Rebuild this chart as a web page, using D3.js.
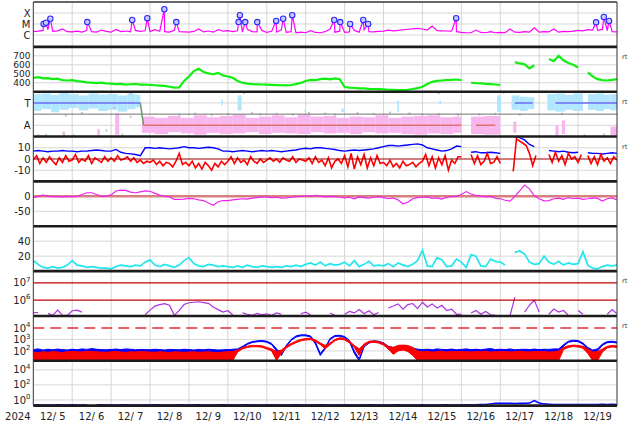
<!DOCTYPE html>
<html><head><meta charset="utf-8">
<script src="https://cdn.jsdelivr.net/npm/d3@7"></script>
<style>body{margin:0;background:#fff}svg{display:block}text{font-family:"DejaVu Sans",sans-serif}</style>
</head><body><svg id="c" width="634" height="424"></svg>
<script>
// ---------- DATA (hours from 2024-12-05 00UT; 3-hourly unless noted) ----------
const dayLabels = ["12/ 5","12/ 6","12/ 7","12/ 8","12/ 9","12/10","12/11","12/12","12/13","12/14","12/15","12/16","12/17","12/18","12/19"];
const yearLabel = "2024";
// X-ray background flux, in units of 1e-6 W/m2 (C-class)
const xrayBg = [2.0,2.2,2.6,3.0,2.1,2.4,3.5,2.0, 1.9,2.2,1.8,2.5,2.0,1.8,2.8,2.1, 1.8,3.2,2.0,2.3,1.9,2.6,2.1,2.4,
 2.0,3.0,2.2,2.0,1.8,2.7,2.0,1.9, 1.8,2.1,3.5,1.9,2.3,1.8,3.0,2.2, 2.5,2.0,2.4,1.8,3.2,2.0,1.9,2.6,
 1.7,2.2,1.8,3.0,1.7,2.0,1.6,1.8, 1.6,2.5,1.7,1.6,2.0,3.5,1.8,2.2, 1.7,1.9,2.6,1.8,3.0,2.0,1.9,2.1,
 2.2,2.8,2.4,2.6,3.0,3.3,3.6,3.9, 3.5,2.8,6.5,2.5,2.4,2.3,2.2,2.0, 1.7,1.6,1.6,2.8,1.7,1.6,2.0,1.6,
 1.7,1.6,3.5,1.8,1.7,2.0,1.8,4.5, 1.8,2.0,1.9,3.5,1.8,2.1,2.0,2.2, 2.6,2.4,3.0,2.8,2.6,3.2,2.5,2.0, 1.9];
// flare peaks: [hour, peak flux in 1e-6 W/m2]
const flares = [[6.4,10],[7.8,13],[10.5,30],[33.3,15],[61.0,23],[70.3,34],[80.8,220],[88.2,15],[126.6,15],[127.4,63],
 [130.7,15],[138.1,15],[149.8,19],[154.1,30],[159.7,63],[185.6,23],[189.3,15],[195.4,10],[203.5,23],[206.5,10],
 [260.8,34],[347.1,14],[351.9,43],[355.1,19]];
// solar wind speed km/s
const speed = [455,462,448,452,440,445,430,425, 428,418,412,405,402,396,400,392, 390,385,388,380,383,386,378,380,
 375,372,368,365,355,345,348,420, 470,530,555,520,505,495,510,480, 470,455,420,400,390,385,382,380,
 378,375,373,372,370,375,385,398, 420,432,428,440,445,438,448,440, 352,345,342,338,336,332,330,328,
 326,322,320,318,318,322,330,340, 355,385,410,420,425,428,432,436, 430,null,400,395,392,388,385,380,
 375,null,null,630,615,605,560,595, null,null,665,640,700,650,620,600, 570,null,515,470,440,430,425,432, 440];
// IMF sector: toward (T) and away (A) scatter ranges [h0,h1,loDeg,hiDeg]
const towardSegs = [[0,5,205,340],[5,11,220,345],[11,16,195,335],[16,22,215,348],[22,28,230,340],[28,34,210,330],
 [34,40,225,345],[40,46,205,338],[46,52,215,342],[52,58,200,330],[58,63,220,345],[63,66,235,335],
 [116,117,250,300],[126,128.5,210,330],[167,168,200,215],[190,191.5,195,225],[224.5,225.5,195,290],[250.5,251.5,260,290],
 [286,288.5,195,330],[295,300,215,330],[300,305,205,320],[305,309,220,315],[317,322,210,340],[322,328,200,345],
 [328,333,215,335],[333,339,205,345],[342,347,215,340],[347,352,205,345],[352,356,220,335],[356,360,210,340]];
const awaySegs = [[18,19.5,10,40],[39.5,41,10,60],[50.5,53,15,185],
 [67,75,30,160],[75,83,20,150],[83,91,35,165],[91,99,25,150],[99,107,15,170],[107,115,30,155],[115,123,20,165],
 [123,131,25,175],[131,139,35,150],[139,147,20,160],[147,155,30,170],[155,163,25,155],[163,171,20,175],[171,179,35,160],
 [179,187,25,165],[187,195,30,150],[195,203,20,160],[203,211,35,155],[211,219,25,170],[219,227,30,150],[227,235,20,160],
 [235,243,15,165],[243,251,25,170],[251,259,20,155],[259,264,30,160],[270,278,20,160],[278,288,15,165],
 [296,298,30,120],[322,324,10,90],[326,328,20,130],[356,360,10,80]];
const sectorGray = [[3,10],[8,12],[19,15],[25,10],[45,50],[55,15],[60,160],[20,170],[30,190],[50,230],[90,175],[100,185],
 [110,172],[120,180],[135,190],[140,178],[150,182],[160,176],[170,190],[180,185],[186,175],[200,188],[210,180],[220,192],
 [232,186],[240,176],[250,182],[262,174],[275,178],[285,182],[300,176],[326,182],[340,10],[352,15],[60,345],[130,350],[250,348],[290,352]];
// polarity line pieces: [h, deg]
const polT1 = [[0,270],[66,270]], polTrans = [[66,270],[68,90]], polA1 = [[68,90],[264,90]], polA2 = [[273,90],[285,90]],
      polT2 = [[297,270],[308,270]], polT3 = [[322,270],[360,270]];
// IMF Bt (3-hourly) and Bz (2-hourly), nT
const bt = [7,7.5,7,6.5,7,7,7.5,7, 7,6.5,7,7,7.5,8,7.5,7, 7,8.5,6,5,4.5,4,3,10, 10,9.5,10,9.5,9,9.5,10,11,
 10,10,9.5,10,10.5,10,9,7, 7,6.5,7,7.5,7,6.5,7,7.5, 7,7.5,7,6.5,7,7.5,8,9, 9.5,9,10,10,9.5,9,8.5,7.5,
 7,7.5,8,7.5,8,8.5,9,10, 11,12,12,11.5,12,12.5,13,13.5, 12.5,10,9,8,7,7.5,9,11.5, 11,null,6,6.5,5.5,5.5,6,5.5,
 5,null,null,20,19,17,13,11, null,null,7.5,7,6.5,7,6,5.5, 6,null,5.5,5,5,4.5,5,5.5, 5];
const bz = [-1,3,-4,1,-3,2,-2,-5,1,-3,3,-2, -1,4,-3,0,-2,3,-4,1,-1,-3,2,-2, 1,-2,3,-1,0,2,-2,1,-3,-1,-4,-2,
 -3,-1,-5,-2,-6,-3,-4,-7,-2,5,-5,-3, -6,-2,-8,-4,-9,-3,-6,-10,-4,-7,-2,-5, -2,2,-4,1,-3,-1,-5,2,-2,-4,0,-3,
 -1,1,-2,0,-3,1,-1,-2,2,-3,0,-1, -2,1,-4,2,-3,-1,-6,1,-8,-2,0,-4, 3,-7,5,-9,2,-5,4,-8,1,-6,3,-4,
 -3,-6,-1,-7,-4,-8,-2,-6,-5,-3,-7,-4, -2,4,-6,2,-8,1,-5,3,-10,-1,-4,2, 2,null,null,4,-4,3,-5,-2,5,-4,-3,2,
 -4,null,null,null,-11,18,16,14,12,5,-6,3, null,null,null,4,-3,6,-2,3,-5,5,0,2, -3,4,null,3,-4,2,-5,4,-2,1,-4,2, -1];
// Dst, nT
const dst = [-4,0,4,1,-1,-1,-2,-1, -1,0,6,12,12,6,1,1, 5,18,21,20,14,12,15,18, 17,10,4,1,-2,-10,-10,-9,
 -7,-8,-12,-14,-22,-30,-18,-14, -14,-12,-10,-8,-9,-6,-4,-2, -2,-4,-3,-6,-5,-3,-1,0, 2,0,3,1,-2,-1,0,-3,
 -5,-3,-8,-2,-4,-6,-3,-1, -4,-8,-5,-12,-25,-20,-8,-4, -3,-2,-7,-5,-9,-3,-1,0, 6,16,8,3,1,-2,0,-6,
 -8,-13,-16,0,18,38,25,2, -8,-15,-14,-8,-6,-10,-4,-8, -6,-10,-8,-5,-7,-16,-8,-5, -12];
// geomagnetic activity index (cyan)
const activity = [14,9,5,4,6,4,5,8, 14,8,7,5,6,5,4,4, 3,6,8,7,6,8,7,12, 15,8,6,9,7,5,8,14, 18,10,7,6,9,8,6,7,
 6,5,7,5,8,6,5,7, 6,5,6,5,7,6,8,6, 9,11,8,12,7,10,8,9, 12,7,14,6,9,13,7,8, 7,10,6,11,8,6,9,14,
 28,7,6,18,15,6,7,16, 12,5,22,20,7,6,16,13, 12,8,null,25,27,23,12,9, 10,20,12,9,13,8,11,9, 10,26,8,4,3,6,8,7, 8];
// electron flux, units of 1e5
const electron = [1.8,1.9,null,1.7,1.3,2.6,1.3,1.3, 2.4,2.6,2.0,null,null,null,1.2,null, 1.3,null,1.2,null,null,null,null,1.4,
 2.6,4.5,5.5,6.2,5.0,1.3,2.5,5.5, 7.0,7.5,8.0,7.2,6.5,4.0,2.8,2.0, 2.4,1.4,null,1.8,1.5,1.3,1.7,1.4,
 1.6,1.3,1.8,1.5,null,null,null,1.6, 2.0,1.4,null,null,null,1.8,1.3,null, 1.5,2.2,1.8,2.8,1.6,2.4,1.4,1.9,
 null,3.5,4.5,6.0,3.0,5.5,6.3,3.2, 7.5,4.0,6.0,3.5,5.0,2.5,3.0,1.5, 1.5,null,1.8,2.5,1.5,2.2,1.4,1.3,
 null,null,1.2,15,null,2.0,5.0,10, 2.0,null,1.5,3.0,2.0,2.5,1.3,null, 2.5,1.5,null,null,null,null,1.5,2.8, 1.6];
// proton flux envelopes (red, blue): upper and lower edge of the noisy trace
const protonRedHi = [80,70,85,75,90,80,70,85, 90,85,80,95,90,85,80,75, 85,90,80,75,85,80,90,85, 80,75,85,80,70,85,80,75,
 80,85,75,80,85,75,70,80, 85,90,120,200,260,300,300,280, 200,150,90,120,250,450,700,1000, 1200,1250,900,500,300,500,1000,1400,
 1200,700,300,150,400,700,750,650, 450,250,200,300,320,300,200,100, 85,90,80,85,95,80,90,85, 90,85,80,90,85,95,80,85,
 85,90,80,85,95,85,80,90, 85,90,80,85,100,200,280,320, 300,250,150,80,90,150,250,300, 280];
const protonRedLo = [13,14,13,15,13,14,13,14, 14,13,15,13,14,13,14,13, 13,14,13,14,13,15,13,14, 14,13,14,13,15,13,14,13,
 13,14,13,14,13,14,13,14, 13,14,80,150,200,230,230,210, 150,100,15,60,180,330,520,750, 900,950,650,350,150,350,750,1050,
 900,500,200,40,280,520,560,480, 320,150,50,100,120,90,40,15, 13,14,13,14,13,14,13,14, 14,13,14,13,14,13,14,13,
 13,14,13,14,13,14,13,14, 14,13,14,13,14,130,200,240, 220,170,60,14,14,80,180,220, 200];
const protonBlueHi = [130,150,120,140,125,145,130,120, 140,125,150,135,160,140,130,125, 135,145,130,150,140,125,135,130,
 125,140,130,120,135,130,125,140, 130,120,135,125,140,130,120,125, 130,140,150,250,450,650,750,800,
 700,450,150,60,300,1000,2000,2500, 2500,2000,600,60,200,1200,2200,2300, 1800,800,100,20,300,600,750,700,
 500,250,200,250,300,250,180,140, 130,140,125,150,135,130,145,125, 135,150,130,140,125,145,160,130,
 140,130,150,125,135,140,130,145, 130,140,135,150,150,350,700,850, 800,500,200,120,150,400,650,700, 600];
const protonBlueLo = [55,60,50,58,52,60,55,50, 58,52,60,55,62,58,54,52, 55,60,54,62,58,52,55,54, 52,58,54,50,56,54,52,58,
 54,50,56,52,58,54,50,52, 50,60,110,200,370,530,620,660, 570,350,100,40,230,800,1600,2050, 2050,1600,400,40,150,950,1800,1900,
 1450,600,60,14,220,480,600,560, 380,150,80,120,150,100,70,60, 54,58,52,62,56,54,60,52, 56,62,54,58,52,60,66,54,
 58,54,62,52,56,58,54,60, 54,58,56,62,60,260,560,680, 640,380,120,40,100,300,520,560, 480];
// low-level flux in bottom panel
const lowFlux = [0.22,0.23,0.22,0.21,0.22,0.23,0.22,0.22, 0.23,0.22,0.21,0.22,null,0.22,0.23,0.22, 0.22,0.21,0.22,0.23,0.22,0.22,0.21,0.22,
 0.22,0.23,0.22,0.22,0.21,0.22,0.23,0.22, 0.22,0.22,0.23,0.22,0.21,0.22,0.22,0.23, 0.22,0.21,0.22,0.22,0.23,0.22,0.22,0.21,
 0.22,0.23,0.22,0.21,0.22,0.22,0.23,0.22, 0.22,0.21,0.22,0.23,0.22,0.22,0.21,0.22, 0.23,0.22,0.22,0.21,0.22,0.23,0.22,0.22,
 0.22,0.21,0.22,0.23,0.22,0.22,0.21,0.22, 0.23,0.22,0.22,0.21,0.22,0.23,0.22,0.22, 0.22,0.23,0.22,0.23,0.24,0.25,0.30,0.36,
 0.36,0.35,0.37,0.34,0.36,0.35,0.38,0.8, 0.4,0.3,0.27,0.25,0.25,0.24,0.25,0.24, 0.25,0.24,0.25,0.24,0.25,0.26,0.25,0.26, 0.25];

// ---------- LAYOUT ----------
const svg = d3.select('#c');
const X0 = 33.3, X1 = 617, TOP = 2, PH = 44.85;
const t0 = Date.UTC(2024, 11, 5);
const hr = h => new Date(t0 + h * 3600000);
const x = d3.scaleUtc().domain([hr(0), hr(360)]).range([X0, X1]);
const pTop = i => TOP + i * PH, pBot = i => TOP + (i + 1) * PH;
const ser = (arr, step) => arr.map((v, i) => ({ t: hr(i * step), v }));
const defs = svg.append('defs');
for (let i = 0; i < 9; i++) defs.append('clipPath').attr('id', 'cp' + i).append('rect')
  .attr('x', X0).attr('y', pTop(i)).attr('width', X1 - X0).attr('height', PH);
const gGrid = svg.append('g'), gData = svg.append('g'), gFrame = svg.append('g'), gText = svg.append('g');
const panelG = i => gData.append('g').attr('clip-path', `url(#cp${i})`);
function hline(g, y, color, w, dash) {
  const l = g.append('line').attr('x1', X0).attr('x2', X1).attr('y1', y).attr('y2', y)
    .attr('stroke', color).attr('stroke-width', w);
  if (dash) l.attr('stroke-dasharray', dash);
}
function ylab(y, txt, fs = 10) {
  gText.append('text').attr('x', 30.5).attr('y', y + fs * 0.36).attr('text-anchor', 'end')
    .attr('font-size', fs).attr('fill', '#222').text(txt);
}
function ylabPow(y, e) {
  const t = gText.append('text').attr('x', 30.5).attr('y', y + 3.6).attr('text-anchor', 'end')
    .attr('font-size', 10).attr('fill', '#222');
  t.append('tspan').text('10');
  t.append('tspan').attr('dy', -4.5).attr('font-size', 7).text(e);
}
function rt(i) {
  gText.append('text').attr('x', 622).attr('y', pTop(i) + 12).attr('font-size', 6.5).attr('fill', '#333').text('rt');
}
const lineGen = (y, sc = 1) => d3.line().defined(d => d.v != null).x(d => x(d.t)).y(d => y(d.v * sc));

// vertical day grid
for (let i = 0; i < 9; i++) for (let k = 1; k < 15; k++)
  gGrid.append('line').attr('x1', x(hr(24 * k))).attr('x2', x(hr(24 * k))).attr('y1', pTop(i)).attr('y2', pBot(i))
    .attr('stroke', '#d6d6d6').attr('stroke-width', 1);

// ---- Panel 0: X-ray ----
{
  const y = d3.scaleLog().domain([8.3e-8, 1e-3]).range([pBot(0), pTop(0)]);
  [[1e-4, 'X'], [1e-5, 'M'], [1e-6, 'C']].forEach(([v, s]) => { hline(gGrid, y(v), '#d6d6d6', 1); ylab(y(v), s); });
  const pts = ser(xrayBg, 3).map(d => ({ t: d.t, v: d.v }));
  flares.forEach(([h, p]) => pts.push({ t: hr(h), v: p }));
  pts.sort((a, b) => a.t - b.t);
  const g = panelG(0);
  g.append('path').datum(pts).attr('d', lineGen(y, 1e-6)).attr('fill', 'none').attr('stroke', '#ff00ff').attr('stroke-width', 1.2);
  g.selectAll('circle').data(flares).join('circle').attr('cx', d => x(hr(d[0]))).attr('cy', d => y(d[1] * 1e-6))
    .attr('r', 2.7).attr('fill', '#c8c8ff').attr('stroke', '#2a2aff').attr('stroke-width', 1.1);
}
// ---- Panel 1: speed ----
{
  const y = d3.scaleLinear().domain([300, 800]).range([pBot(1), pTop(1)]);
  [400, 500, 600, 700].forEach(v => { hline(gGrid, y(v), '#d6d6d6', 1); ylab(y(v), String(v), 9); });
  panelG(1).append('path').datum(ser(speed, 3)).attr('d', lineGen(y)).attr('fill', 'none').attr('stroke', '#11ee11').attr('stroke-width', 2.2);
  rt(1);
}
// ---- Panel 2: sector ----
{
  const y = d3.scaleLinear().domain([0, 360]).range([pBot(2), pTop(2)]);
  hline(gGrid, y(270), '#d6d6d6', 1); hline(gGrid, y(90), '#d6d6d6', 1);
  ylab(y(270), 'T'); ylab(y(90), 'A');
  const g = panelG(2);
  g.selectAll('rect.t').data(towardSegs).join('rect').attr('x', d => x(hr(d[0]))).attr('width', d => Math.max(1.2, x(hr(d[1])) - x(hr(d[0]))))
    .attr('y', d => y(d[3])).attr('height', d => y(d[2]) - y(d[3])).attr('fill', '#b2e6fc');
  g.selectAll('rect.a').data(awaySegs).join('rect').attr('x', d => x(hr(d[0]))).attr('width', d => Math.max(1.2, x(hr(d[1])) - x(hr(d[0]))))
    .attr('y', d => y(d[3])).attr('height', d => y(d[2]) - y(d[3])).attr('fill', '#f8b6ee');
  g.selectAll('rect.g').data(sectorGray).join('rect').attr('x', d => x(hr(d[0])) - 1).attr('y', d => y(d[1]) - 1)
    .attr('width', 2).attr('height', 2).attr('fill', '#c4c4c4');
  hline(g, y(180), '#707070', 1);
  const pl = d3.line().x(d => x(hr(d[0]))).y(d => y(d[1]));
  [[polT1, '#6a6af5'], [polTrans, '#6a9a6a'], [polA1, '#e07070'], [polA2, '#e07070'], [polT2, '#6a6af5'], [polT3, '#6a6af5']]
    .forEach(([d, c]) => g.append('path').datum(d).attr('d', pl).attr('fill', 'none').attr('stroke', c).attr('stroke-width', 1.5));
  rt(2);
}
// ---- Panel 3: Bt/Bz ----
{
  const y = d3.scaleLinear().domain([-20, 20]).range([pBot(3), pTop(3)]);
  [10, -10].forEach(v => hline(gGrid, y(v), '#d6d6d6', 1));
  [[10, '10'], [0, '0'], [-10, '-10']].forEach(([v, s]) => ylab(y(v), s));
  const g = panelG(3);
  g.append('path').datum(ser(bt, 3)).attr('d', lineGen(y)).attr('fill', 'none').attr('stroke', '#0000ff').attr('stroke-width', 1.4);
  g.append('path').datum(ser(bz, 2)).attr('d', lineGen(y)).attr('fill', 'none').attr('stroke', '#ff0000').attr('stroke-width', 1.6);
  hline(g, y(0), '#a00000', 1.2);
  rt(3);
}
// ---- Panel 4: Dst ----
{
  const y = d3.scaleLinear().domain([-100, 50]).range([pBot(4), pTop(4)]);
  hline(gGrid, y(-50), '#d6d6d6', 1);
  ylab(y(0), '0'); ylab(y(-50), '-50');
  const g = panelG(4);
  hline(g, y(0), '#d88080', 2.5);
  g.append('path').datum(ser(dst, 3)).attr('d', lineGen(y)).attr('fill', 'none').attr('stroke', '#ee22ee').attr('stroke-width', 1.2);
}
// ---- Panel 5: activity ----
{
  const y = d3.scaleLinear().domain([0, 60]).range([pBot(5), pTop(5)]);
  [20, 40].forEach(v => { hline(gGrid, y(v), '#d6d6d6', 1); ylab(y(v), String(v)); });
  panelG(5).append('path').datum(ser(activity, 3)).attr('d', lineGen(y)).attr('fill', 'none').attr('stroke', '#22e6ee').attr('stroke-width', 1.7);
}
// ---- Panel 6: electrons ----
{
  const y = d3.scaleLog().domain([1.2e5, 4.8e7]).range([pBot(6), pTop(6)]);
  ylabPow(y(1e7), '7'); ylabPow(y(1e6), '6');
  const g = panelG(6);
  g.append('path').datum(ser(electron, 3)).attr('d', lineGen(y, 1e5)).attr('fill', 'none').attr('stroke', '#aa33dd').attr('stroke-width', 1.2);
  hline(g, y(1e7), '#c00000', 1.2); hline(g, y(1e6), '#c00000', 1.2);
  rt(6);
}
// ---- Panel 7: protons ----
{
  const y = d3.scaleLog().domain([13.8, 1.1e5]).range([pBot(7), pTop(7)]);
  [100, 1000].forEach(v => hline(gGrid, y(v), '#d6d6d6', 1));
  ylabPow(y(1e4), '4'); ylabPow(y(1e3), '3'); ylabPow(y(1e2), '2');
  const g = panelG(7);
  const area = (hi, lo) => d3.area().x((d, i) => x(hr(i * 3))).y0((d, i) => y(lo[i])).y1((d, i) => y(hi[i]));
  g.append('path').datum(protonBlueHi).attr('d', area(protonBlueHi, protonBlueLo)).attr('fill', '#0000ff').attr('stroke', '#0000ff').attr('stroke-width', 1);
  g.append('path').datum(protonRedHi).attr('d', area(protonRedHi, protonRedLo)).attr('fill', '#ff0000').attr('stroke', '#ff0000').attr('stroke-width', 1);
  hline(g, y(1e4), '#e03030', 1.5, '11,6');
  rt(7);
}
// ---- Panel 8: low flux ----
{
  const y = d3.scaleLog().domain([0.174, 1.6e5]).range([pBot(8), pTop(8)]);
  [1, 100, 1e4].forEach(v => hline(gGrid, y(v), '#d6d6d6', 1));
  ylabPow(y(1e4), '4'); ylabPow(y(1e2), '2'); ylabPow(y(1), '0');
  panelG(8).append('path').datum(ser(lowFlux, 3)).attr('d', lineGen(y)).attr('fill', 'none').attr('stroke', '#0000ff').attr('stroke-width', 1.5);
}

// ---- frame ----
gFrame.append('line').attr('x1', X0).attr('x2', X1).attr('y1', TOP).attr('y2', TOP).attr('stroke', '#333').attr('stroke-width', 1.5);
for (let i = 1; i <= 9; i++) gFrame.append('line').attr('x1', X0).attr('x2', X1).attr('y1', pTop(i)).attr('y2', pTop(i))
  .attr('stroke', '#1c1c1c').attr('stroke-width', 2.6);
[X0, X1].forEach(xx => gFrame.append('line').attr('x1', xx).attr('x2', xx).attr('y1', TOP).attr('y2', pTop(9))
  .attr('stroke', '#333').attr('stroke-width', 1));

// ---- x labels ----
dayLabels.forEach((s, d) => gText.append('text').attr('x', x(hr(24 * d + 12))).attr('y', 420).attr('text-anchor', 'middle')
  .attr('font-size', 10).attr('fill', '#222').attr('xml:space', 'preserve').text(s));
gText.append('text').attr('x', 30.5).attr('y', 420).attr('text-anchor', 'end').attr('font-size', 10).attr('fill', '#222').text(yearLabel);
</script></body></html>
